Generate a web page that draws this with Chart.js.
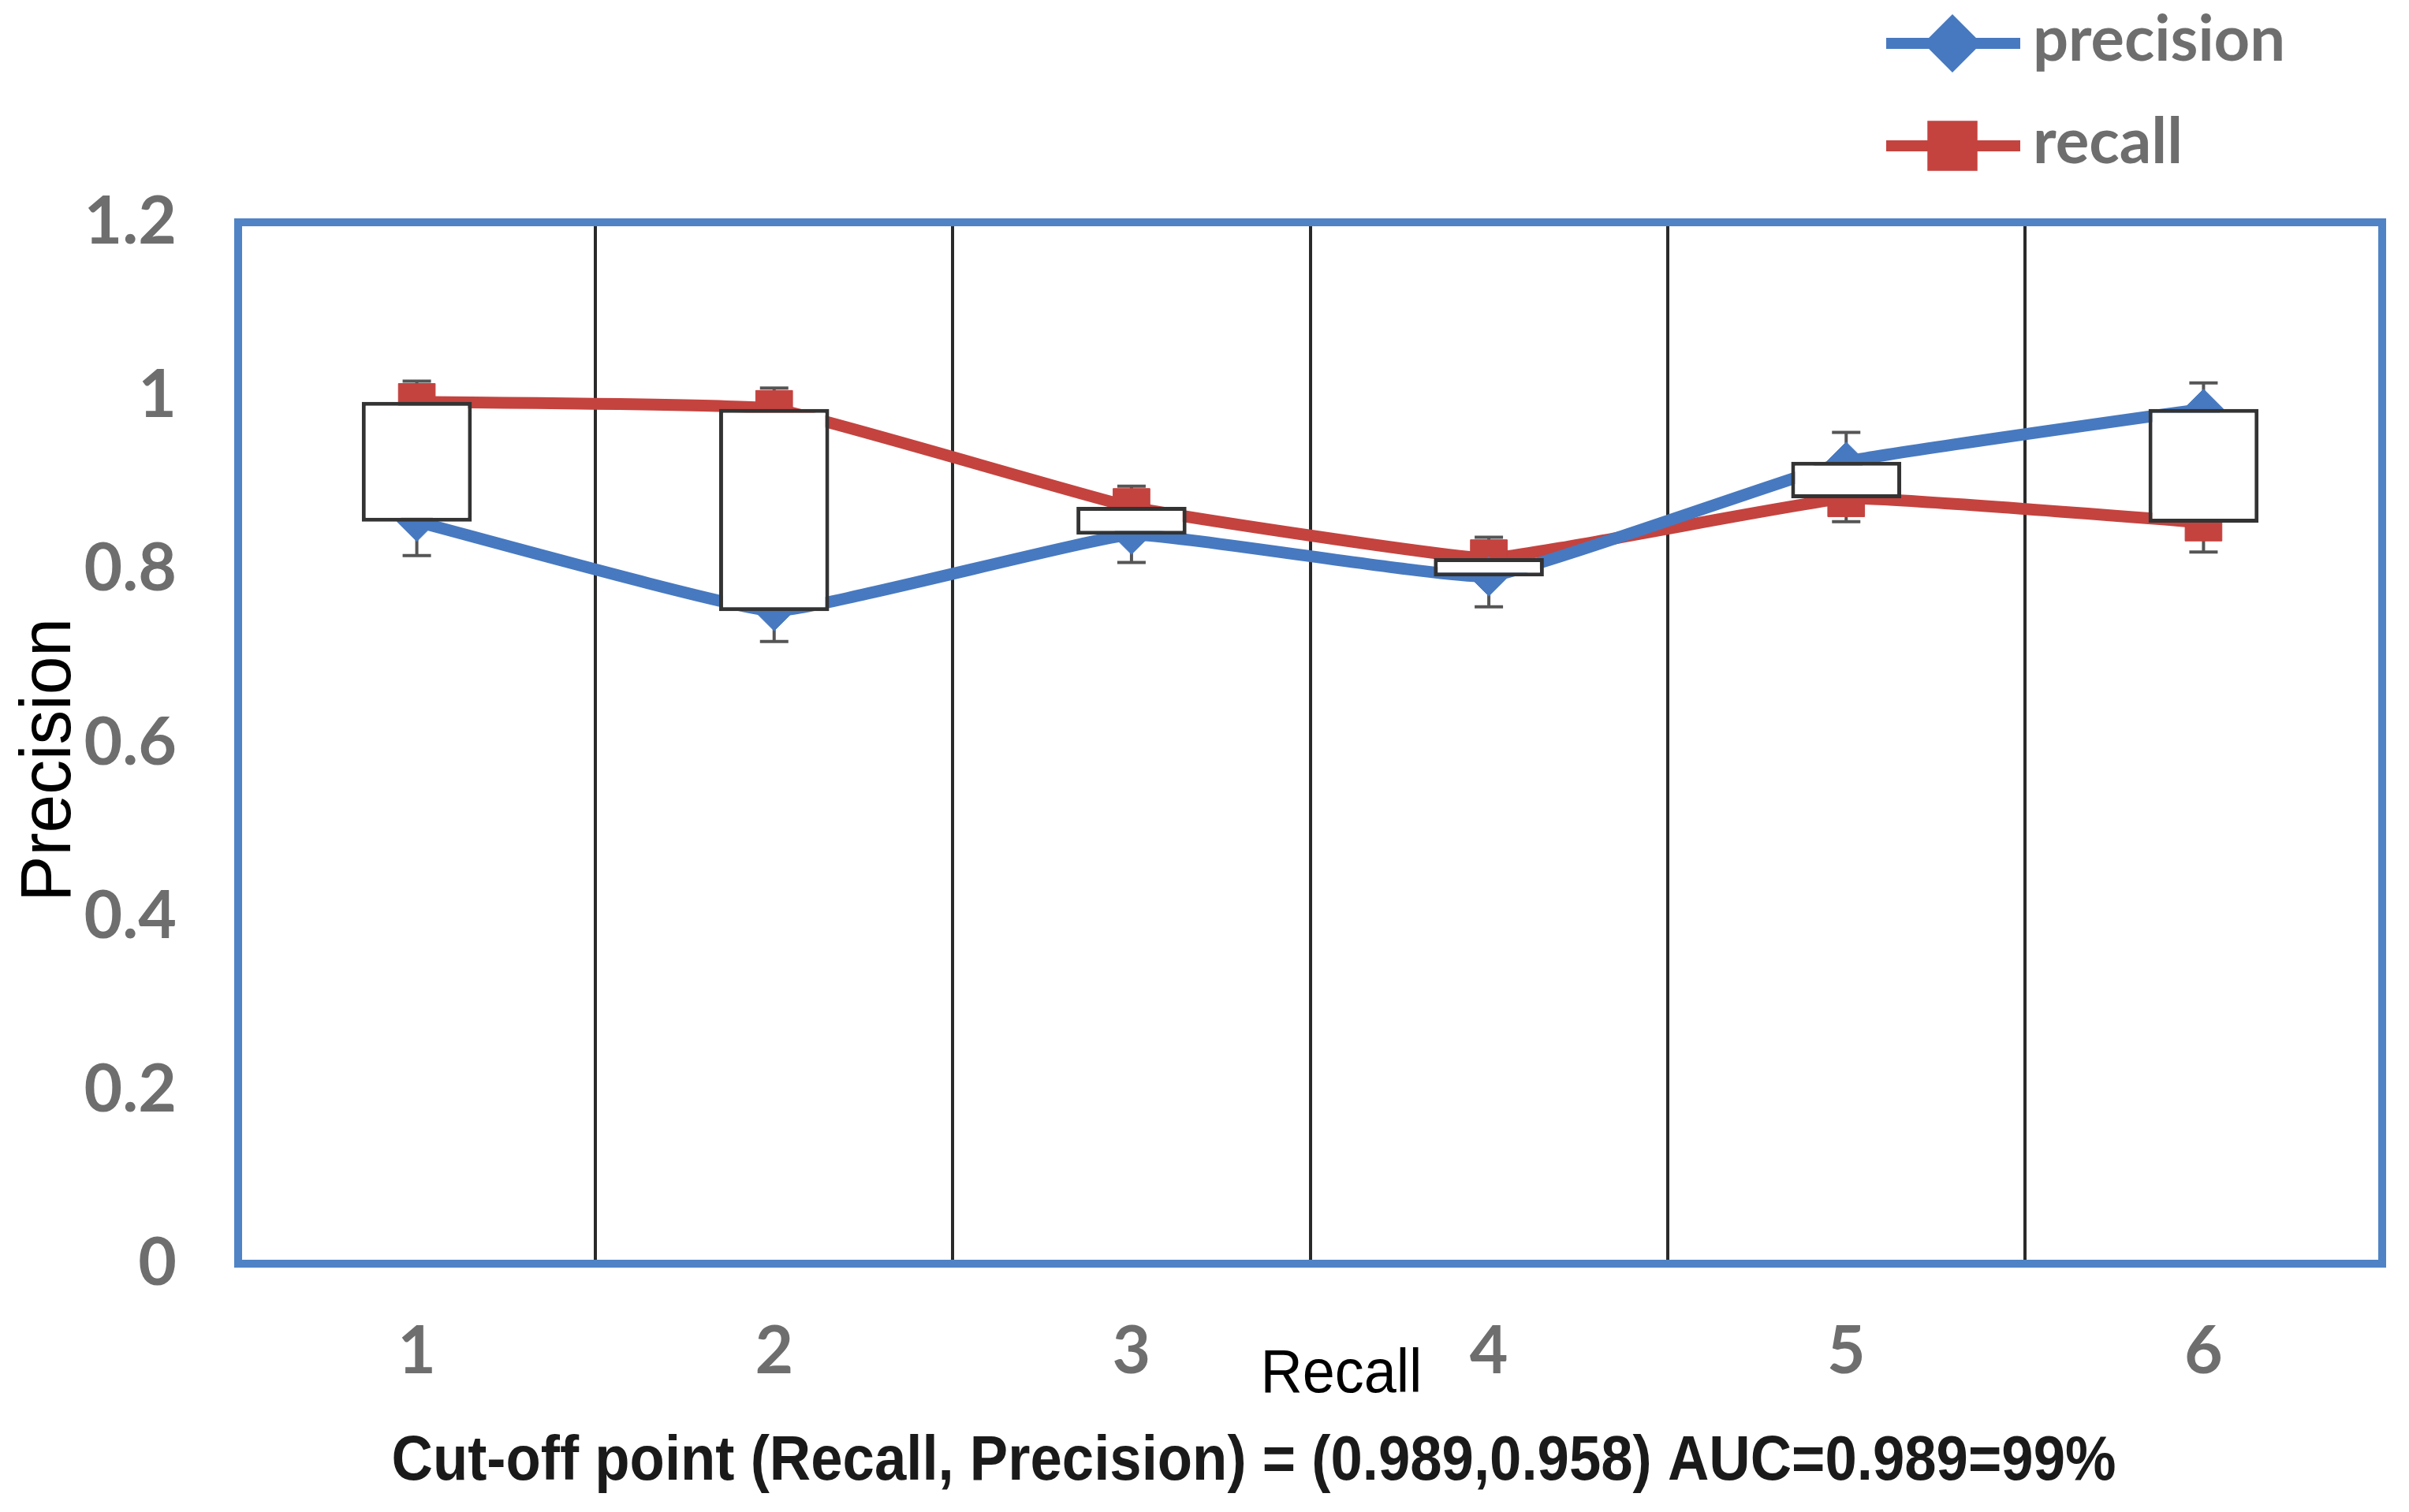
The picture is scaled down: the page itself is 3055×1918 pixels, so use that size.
<!DOCTYPE html>
<html><head><meta charset="utf-8">
<script src="https://cdn.jsdelivr.net/npm/chart.js@4.4.1/dist/chart.umd.min.js"></script>
<style>html,body{margin:0;padding:0;background:#fff;overflow:hidden}
#wrap{width:3055px;height:1918px;position:relative}
canvas{display:block}</style></head>
<body><div id="wrap"><canvas id="c" width="3055" height="1918"></canvas></div>
<script>
// ---- data ----
const categories = ['1', '2', '3', '4', '5', '6'];
const precision = [0.855, 0.752, 0.840, 0.792, 0.924, 0.985];
const recall = [0.993, 0.985, 0.872, 0.813, 0.882, 0.854];
const precisionErr = [0.039, 0.035, 0.032, 0.035, 0.034, 0.030];
const recallErr = [0.024, 0.024, 0.024, 0.024, 0.027, 0.034];
const yMin = 0, yMax = 1.2, yStep = 0.2;
const seriesNames = ['precision', 'recall'];
const xTitle = 'Recall';
const yTitle = 'Precision';
const caption = 'Cut-off point (Recall, Precision) = (0.989,0.958) AUC=0.989=99%';

// ---- styles ----
const BLUE = '#4779c0';
const RED = '#c4433f';
const TICK_GRAY = '#6e6e6e';
const boxes = categories.map((_, i) => [Math.min(precision[i], recall[i]), Math.max(precision[i], recall[i])]);

const W = 3055, H = 1918;
const PLOT = {left: 302, right: 3031, top: 282, bottom: 1603};

const frameAndErrors = {
  id: 'frameAndErrors',
  beforeDatasetsDraw(chart) {
    const ctx = chart.ctx;
    const xs = chart.scales.x, ys = chart.scales.y;
    ctx.save();
    const sets = [[precision, precisionErr], [recall, recallErr]];
    ctx.strokeStyle = '#555555';
    ctx.lineWidth = 4;
    sets.forEach(([vals, errs]) => {
      vals.forEach((v, i) => {
        const x = xs.getPixelForValue(i);
        const y1 = ys.getPixelForValue(v - errs[i]);
        const y2 = ys.getPixelForValue(v + errs[i]);
        ctx.beginPath();
        ctx.moveTo(x, y1); ctx.lineTo(x, y2);
        ctx.moveTo(x - 18, y1); ctx.lineTo(x + 18, y1);
        ctx.moveTo(x - 18, y2); ctx.lineTo(x + 18, y2);
        ctx.stroke();
      });
    });
    ctx.restore();
  },
  afterDraw(chart) {
    const ctx = chart.ctx, a = chart.chartArea;
    ctx.save();
    ctx.strokeStyle = '#4f83c6';
    ctx.lineWidth = 10;
    ctx.strokeRect(a.left, a.top, a.right - a.left, a.bottom - a.top);

    // legend
    const lx1 = 2392, lx2 = 2562, lcx = 2476, tx = 2578;
    const rows = [55, 185];
    chart.data.datasets.filter(d => d.type === 'line').forEach((d, k) => {
      const y = rows[k];
      ctx.strokeStyle = d.borderColor;
      ctx.lineWidth = 14;
      ctx.beginPath(); ctx.moveTo(lx1, y); ctx.lineTo(lx2, y); ctx.stroke();
      ctx.fillStyle = d.pointBackgroundColor;
      ctx.strokeStyle = d.borderColor;
      Chart.helpers.drawPoint(ctx, {pointStyle: d.pointStyle, radius: d.pointRadius + 2, rotation: 0, borderWidth: 1}, lcx, y);
      ctx.fillStyle = TICK_GRAY;
      ctx.font = 'bold 80px Lato';
      ctx.textAlign = 'left';
      ctx.textBaseline = 'middle';
      ctx.fillText(d.label, tx, y - 4, k === 0 ? 320 : 190);
    });

    ctx.fillStyle = '#000';
    ctx.textAlign = 'center';
    ctx.textBaseline = 'middle';
    ctx.font = '78px "Liberation Sans"';
    ctx.fillText(xTitle, 1701, 1744, 205);
    ctx.save();
    ctx.translate(64, 964);
    ctx.rotate(-Math.PI / 2);
    ctx.font = '90px "Liberation Sans"';
    ctx.fillText(yTitle, 0, 0, 360);
    ctx.restore();
    ctx.fillStyle = '#1a1a1a';
    ctx.font = 'bold 80px "Liberation Sans"';
    ctx.fillText(caption, 1590, 1855, 2187);
    ctx.restore();
  }
};

new Chart(document.getElementById('c'), {
  data: {
    labels: categories,
    datasets: [
      {
        type: 'bar', label: 'range', data: boxes, order: 0,
        backgroundColor: '#ffffff', borderColor: '#333333', borderWidth: 5,
        borderSkipped: false, categoryPercentage: 1, barPercentage: 0.308
      },
      {
        type: 'line', label: seriesNames[0], data: precision, order: 1,
        borderColor: BLUE, backgroundColor: BLUE, borderWidth: 15, tension: 0.1,
        pointStyle: 'rectRot', pointRadius: 25, pointBackgroundColor: BLUE,
        pointBorderColor: BLUE, pointBorderWidth: 1
      },
      {
        type: 'line', label: seriesNames[1], data: recall, order: 2,
        borderColor: RED, backgroundColor: RED, borderWidth: 15, tension: 0.1,
        pointStyle: 'rect', pointRadius: 33, pointBackgroundColor: RED,
        pointBorderColor: RED, pointBorderWidth: 1
      }
    ]
  },
  options: {
    responsive: false, devicePixelRatio: 1, animation: false,
    layout: {padding: {top: PLOT.top, right: W - PLOT.right, bottom: 0, left: 0}},
    plugins: {legend: {display: false}, title: {display: false}, tooltip: {enabled: false}},
    scales: {
      x: {
        type: 'category', offset: true,
        grid: {offset: true, color: '#2a2a2a', lineWidth: 4, drawTicks: false},
        border: {display: false},
        ticks: {color: TICK_GRAY, font: {family: 'Lato', weight: 'bold', size: 84}, padding: 62, maxRotation: 0},
        afterFit(s) { s.height = H - PLOT.bottom; }
      },
      y: {
        min: yMin, max: yMax,
        grid: {display: false, drawTicks: false},
        border: {display: false},
        ticks: {
          stepSize: yStep, color: TICK_GRAY, font: {family: 'Lato', weight: 'bold', size: 84}, padding: 78,
          callback: v => String(Number(v.toFixed(2)))
        },
        afterFit(s) { s.width = PLOT.left; }
      }
    }
  },
  plugins: [frameAndErrors]
});
</script>
</body></html>
